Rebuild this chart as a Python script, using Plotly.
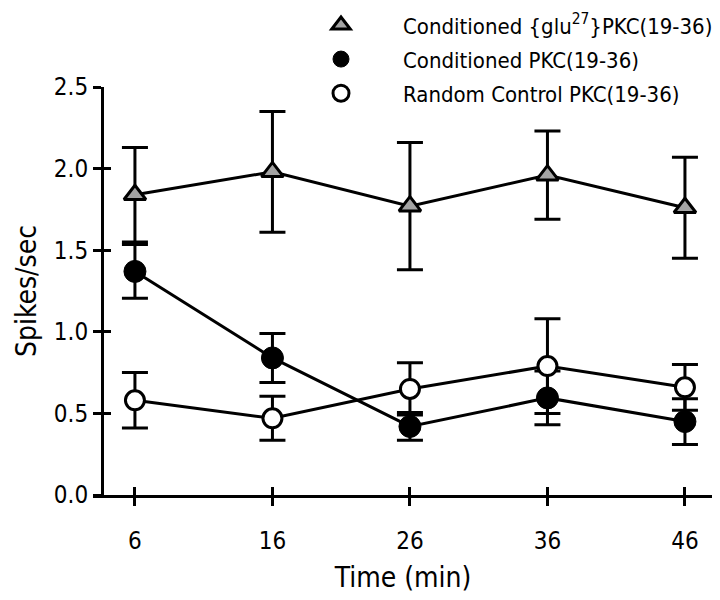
import plotly.graph_objects as go

# ---- data ----
time_min = [6, 16, 26, 36, 46]
x_tick_labels = ["6", "16", "26", "36", "46"]
y_tick_vals = [0.0, 0.5, 1.0, 1.5, 2.0, 2.5]
y_tick_labels = ["0.0", "0.5", "1.0", "1.5", "2.0", "2.5"]

series_names = [
    "Conditioned {glu<sup>27</sup>}PKC(19-36)",
    "Conditioned PKC(19-36)",
    "Random Control PKC(19-36)",
]
glu_mean = [1.84, 1.98, 1.77, 1.96, 1.76]
glu_sem = [0.29, 0.37, 0.39, 0.27, 0.31]
pkc_mean = [1.37, 0.84, 0.42, 0.595, 0.45]
pkc_sem = [0.165, 0.15, 0.085, 0.165, 0.14]
rand_mean = [0.58, 0.47, 0.65, 0.79, 0.66]
rand_sem = [0.17, 0.135, 0.16, 0.29, 0.14]

FONT = "Liberation Sans Narrow, DejaVu Sans Condensed, Arial Narrow, Roboto, sans-serif"
BLACK = "#000000"

markers = [
    dict(symbol="triangle-up", size=19, color="#a4a4a4", line=dict(color=BLACK, width=3)),
    dict(symbol="circle", size=22, color=BLACK, line=dict(color=BLACK, width=1)),
    dict(symbol="circle", size=19, color="#ffffff", line=dict(color=BLACK, width=3)),
]
means = [glu_mean, pkc_mean, rand_mean]
sems = [glu_sem, pkc_sem, rand_sem]

fig = go.Figure()
for name, m, s, mk in zip(series_names, means, sems, markers):
    fig.add_trace(go.Scatter(
        x=time_min, y=m, mode="lines+markers", name=name, showlegend=False,
        line=dict(color=BLACK, width=3),
        marker=mk,
        error_y=dict(type="data", array=s, visible=True, color=BLACK, thickness=3, width=13),
    ))

# legend-only entries (markers only, as in the reference legend)
for i, (name, mk) in enumerate(zip(series_names, markers)):
    fig.add_trace(go.Scatter(
        x=[None], y=[None], mode="markers", name=name, marker=mk,
        showlegend=True, legendgroup=f"g{i}",
    ))

# invisible trace so the overlay axes (inner tick halves) are drawn
fig.add_trace(go.Scatter(x=[None], y=[None], xaxis="x2", yaxis="y2", showlegend=False,
                         hoverinfo="skip"))

X_RANGE = [2.95, 48.04]
Y_AXIS_POS = (3.6 - X_RANGE[0]) / (X_RANGE[1] - X_RANGE[0])

fig.update_layout(
    width=720, height=600,
    margin=dict(l=85, r=15, t=79, b=113, autoexpand=False),
    paper_bgcolor="white", plot_bgcolor="white",
    font=dict(family=FONT, color=BLACK, size=24),
    xaxis=dict(
        range=X_RANGE, tickvals=time_min, ticktext=x_tick_labels,
        ticks="outside", ticklen=8, tickwidth=3, tickcolor=BLACK,
        showline=True, linewidth=3, linecolor=BLACK,
        showgrid=False, zeroline=False, anchor="y", automargin=False,
        tickfont=dict(size=24, family=FONT), ticklabelstandoff=14,
        title=dict(text="Time (min)", font=dict(size=28, family=FONT), standoff=14),
    ),
    xaxis2=dict(
        range=X_RANGE, overlaying="x", anchor="y", side="bottom",
        tickvals=time_min, ticks="inside", ticklen=8, tickwidth=3, tickcolor=BLACK,
        showticklabels=False, showline=False, showgrid=False, zeroline=False,
    ),
    yaxis=dict(
        range=[0, 2.5], tickvals=y_tick_vals, ticktext=y_tick_labels,
        anchor="free", position=Y_AXIS_POS, automargin=False,
        ticks="outside", ticklen=8, tickwidth=3, tickcolor=BLACK,
        showline=True, linewidth=3, linecolor=BLACK,
        showgrid=False, zeroline=False,
        tickfont=dict(size=24, family=FONT),
        title=dict(text="Spikes/sec", font=dict(size=28, family=FONT), standoff=8),
    ),
    yaxis2=dict(
        range=[0, 2.5], overlaying="y", anchor="free", position=Y_AXIS_POS,
        tickvals=y_tick_vals, ticks="inside", ticklen=8, tickwidth=3, tickcolor=BLACK,
        showticklabels=False, showline=False, showgrid=False, zeroline=False,
    ),
    legend=dict(
        x=0.3, y=1.203, xanchor="left", yanchor="top",
        font=dict(size=22, family=FONT, color=BLACK),
        bgcolor="rgba(0,0,0,0)", itemwidth=114,
        traceorder="grouped", tracegroupgap=2.5,
    ),
    showlegend=True,
)

fig.write_html("out.html")
